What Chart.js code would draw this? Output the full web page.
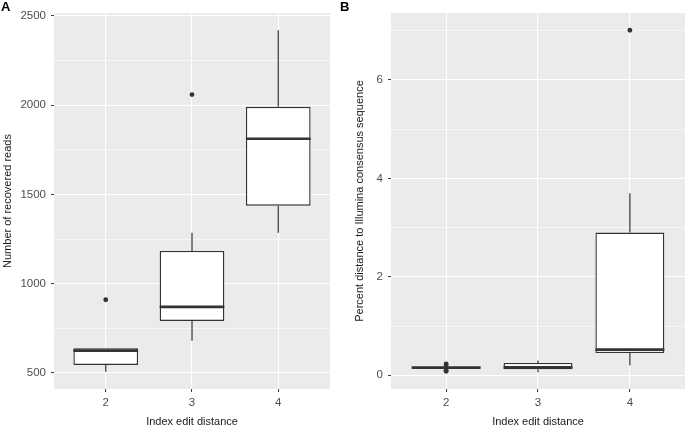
<!DOCTYPE html>
<html>
<head>
<meta charset="utf-8">
<script src="https://cdn.jsdelivr.net/npm/chart.js@4/dist/chart.umd.min.js"></script>
<style>
  html, body { margin:0; padding:0; background:#fff; }
  #wrap { position:relative; width:685px; height:427px; overflow:hidden; background:#fff; }
  canvas { position:absolute; top:0; }
  .tag { position:absolute; font-family:"Liberation Sans", Arial, sans-serif; font-weight:bold; font-size:13px; color:#000; }
</style>
</head>
<body>
<div id="wrap">
  <canvas id="cA" width="340" height="427" style="left:0px"></canvas>
  <canvas id="cB" width="333" height="427" style="left:352px"></canvas>
  <div class="tag" style="left:1px;top:-1px">A</div>
  <div class="tag" style="left:340px;top:-1px">B</div>
</div>
<script>
// ---- data ----
const categories = [2, 3, 4];
const xTitle = 'Index edit distance';

// Panel A: Number of recovered reads
const aTitle = 'Number of recovered reads';
const aMin    = [507, 680, 1285];
const aQ1     = [545, 791, 1437];
const aMedian = [625, 870, 1812];
const aQ3     = [638, 1184, 1991];
const aMax    = [638, 1285, 2421];
const aOutliers = [[910], [2060], []];
const aYMajor = [500, 1000, 1500, 2000, 2500];
const aYMinor = [750, 1250, 1750, 2250];

// Panel B: Percent distance to Illumina consensus sequence
const bTitle = 'Percent distance to Illumina consensus sequence';
const bMin    = [0.13, 0.06, 0.20];
const bQ1     = [0.145, 0.12, 0.45];
const bMedian = [0.155, 0.16, 0.52];
const bQ3     = [0.165, 0.25, 2.90];
const bMax    = [0.18, 0.30, 3.70];
const bOutliers = [[0.08, 0.10, 0.21, 0.23], [], [7.01]];
const bYMajor = [0, 2, 4, 6];
const bYMinor = [1, 3, 5, 7];

// ---- styling ----
const FONT = '"Liberation Sans", Arial, sans-serif';
const BOX_WIDTH = 0.75;
const LINE = '#333333';

const panelBg = {
  id: 'panelBg',
  beforeDraw(chart) {
    const a = chart.chartArea, c = chart.ctx;
    c.save(); c.fillStyle = '#EBEBEB';
    c.fillRect(a.left, a.top, a.right - a.left, a.bottom - a.top);
    c.restore();
  }
};

function buildDatasets(mins, q1s, meds, q3s, maxs, outs) {
  const boxes = categories.map((g, i) => ({ x: g, y: [q1s[i], q3s[i]] }));
  const whiskers = [];
  const medians = [];
  const points = [];
  categories.forEach((g, i) => {
    whiskers.push({ x: g, y: q3s[i] }, { x: g, y: maxs[i] }, { x: g, y: null },
                  { x: g, y: q1s[i] }, { x: g, y: mins[i] }, { x: g, y: null });
    medians.push({ x: g - BOX_WIDTH / 2, y: meds[i] }, { x: g + BOX_WIDTH / 2, y: meds[i] }, { x: g + 0.5, y: null });
    outs[i].forEach(v => points.push({ x: g, y: v }));
  });
  return [
    { type: 'line', data: whiskers, borderColor: LINE, borderWidth: 1.2, pointRadius: 0, spanGaps: false, order: 3 },
    { type: 'bar', data: boxes, backgroundColor: '#FFFFFF', borderColor: LINE, borderWidth: 1.4,
      borderSkipped: false, barPercentage: BOX_WIDTH, categoryPercentage: 1, grouped: false, order: 2 },
    { type: 'line', data: medians, borderColor: LINE, borderWidth: 2.6, pointRadius: 0, spanGaps: false, order: 1 },
    { type: 'line', data: points, showLine: false, pointRadius: 2.4, pointBackgroundColor: LINE,
      pointBorderWidth: 0, order: 0 }
  ];
}

function makeChart(id, yTitle, yMin, yMax, major, minor, yWidth, rightPad, ds) {
  const all = major.concat(minor).sort((p, q) => p - q);
  const isMajor = v => major.indexOf(v) >= 0;
  return new Chart(document.getElementById(id), {
    type: 'bar',
    data: { datasets: ds },
    plugins: [panelBg],
    options: {
      responsive: false, animation: false, devicePixelRatio: 1,
      layout: { autoPadding: false, padding: { left: 0, right: rightPad, top: 13, bottom: 0 } },
      plugins: { legend: { display: false }, tooltip: { enabled: false } },
      scales: {
        x: {
          type: 'linear', min: 1.4, max: 4.6, offset: false,
          afterBuildTicks: s => { s.ticks = categories.map(v => ({ value: v })); },
          afterFit: s => { s.height = 38; s.paddingLeft = 0; s.paddingRight = 0; },
          ticks: { callback: v => String(v), color: '#4D4D4D', font: { family: FONT, size: 11.5 }, padding: 4, autoSkip: false, maxRotation: 0 },
          grid: { offset: false, color: '#FFFFFF', lineWidth: 1.1, tickColor: LINE, tickLength: 3, tickWidth: 1 },
          border: { display: false },
          title: { display: true, text: xTitle, color: '#1A1A1A', font: { family: FONT, size: 11, lineHeight: 1.0 }, padding: { top: 0, bottom: 0 } }
        },
        y: {
          type: 'linear', min: yMin, max: yMax,
          afterBuildTicks: s => { s.ticks = all.map(v => ({ value: v })); },
          afterFit: s => { s.width = yWidth; },
          ticks: { callback: v => isMajor(v) ? String(v) : '', color: '#4D4D4D', font: { family: FONT, size: 11.5 }, padding: 5, autoSkip: false },
          grid: {
            color: '#FFFFFF',
            lineWidth: c => (c.tick && isMajor(c.tick.value)) ? 1.1 : 0.55,
            tickColor: c => (c.tick && isMajor(c.tick.value)) ? LINE : 'rgba(0,0,0,0)',
            tickLength: 3, tickWidth: 1
          },
          border: { display: false },
          title: { display: true, text: yTitle, color: '#1A1A1A', font: { family: FONT, size: 11 }, padding: { top: 1, bottom: 0 } }
        }
      }
    }
  });
}

makeChart('cA', aTitle, 410, 2517, aYMajor, aYMinor, 54, 10,
  buildDatasets(aMin, aQ1, aMedian, aQ3, aMax, aOutliers));
makeChart('cB', bTitle, -0.28, 7.36, bYMajor, bYMinor, 39, 0,
  buildDatasets(bMin, bQ1, bMedian, bQ3, bMax, bOutliers));
</script>
</body>
</html>
